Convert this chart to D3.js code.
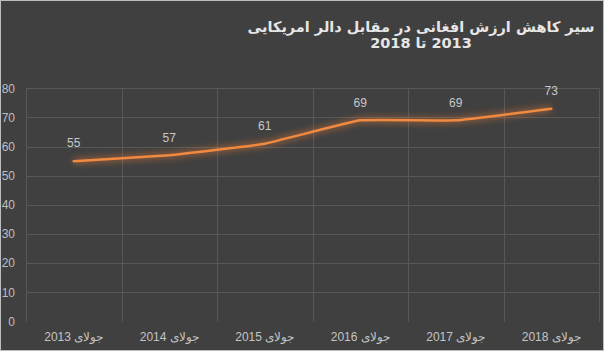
<!DOCTYPE html>
<html><head><meta charset="utf-8">
<script src="https://cdn.jsdelivr.net/npm/d3@7"></script>
<style>html,body{margin:0;padding:0;background:#404040;}svg{display:block;}</style>
</head><body>
<script>
const categories = ["جولای 2013","جولای 2014","جولای 2015","جولای 2016","جولای 2017","جولای 2018"];
const values = [55, 57, 61, 69, 69, 73];
const yTicks = [0,10,20,30,40,50,60,70,80];
const titleLine1 = "سیر کاهش ارزش افغانی در مقابل دالر امریکایی";
const titleLine2 = ["2013", "تا", "2018"];   // reading order (right to left)

const W = 604, H = 351;
const svg = d3.select("body").append("svg").attr("width", W).attr("height", H);
svg.append("rect").attr("x",0.5).attr("y",0.5).attr("width",W-1).attr("height",H-1)
  .attr("fill","#404040").attr("stroke","#bdbdbd").attr("stroke-width",1);

const defs = svg.append("defs");
const f = defs.append("filter").attr("id","glow").attr("x","-10%").attr("y","-50%").attr("width","120%").attr("height","200%");
f.append("feGaussianBlur").attr("stdDeviation",3).attr("result","b");

const x = d3.scaleBand().domain(categories).range([26, 599]);
const y = d3.scaleLinear().domain([0, 80]).range([321.5, 88.3]);

const fontFam = "'Liberation Sans', Arial, sans-serif";

// horizontal grid
svg.append("g").selectAll("line").data(yTicks.filter(d=>d>0)).join("line")
  .attr("x1", 26).attr("x2", 599)
  .attr("y1", d=>Math.round(y(d))+0.5).attr("y2", d=>Math.round(y(d))+0.5)
  .attr("stroke","#585858").attr("stroke-width",1);
// vertical grid
const vx = categories.map(c=>x(c)).concat([x.range()[1]]);
svg.append("g").selectAll("line").data(vx).join("line")
  .attr("x1", d=>Math.round(d)+0.5).attr("x2", d=>Math.round(d)+0.5)
  .attr("y1", y(80)).attr("y2", y(0))
  .attr("stroke","#585858").attr("stroke-width",1);

// y labels
svg.append("g").selectAll("text").data(yTicks).join("text")
  .attr("x", 15).attr("y", d=>y(d)).attr("dy","0.35em")
  .attr("text-anchor","end").attr("fill","#bfbfbf")
  .attr("font-family",fontFam).attr("font-size",12).text(d=>d);

// x labels
svg.append("g").selectAll("text").data(categories).join("text")
  .attr("x", d=>x(d)+x.bandwidth()/2).attr("y", 337).attr("dy","0.35em")
  .attr("text-anchor","middle").attr("direction","rtl").attr("unicode-bidi","embed")
  .attr("fill","#c4c4c4").attr("font-family",fontFam).attr("font-size",12).text(d=>d);

const pts = categories.map((c,i)=>[x(c)+x.bandwidth()/2, y(values[i])]);
const line = d3.line().curve(d3.curveCardinal.tension(0.75));
svg.append("path").attr("d", line(pts)).attr("fill","none")
  .attr("stroke","#ed7d31").attr("stroke-width",6).attr("stroke-opacity",0.45).attr("filter","url(#glow)");
svg.append("path").attr("d", line(pts)).attr("fill","none")
  .attr("stroke","#f08a40").attr("stroke-width",2.5).attr("stroke-linecap","round").attr("stroke-linejoin","round");

// data labels
svg.append("g").selectAll("text").data(values).join("text")
  .attr("x", (d,i)=>pts[i][0]).attr("y", (d,i)=>pts[i][1]-18).attr("dy","0.35em")
  .attr("text-anchor","middle").attr("fill","#c8c8c8")
  .attr("font-family",fontFam).attr("font-size",12).text(d=>d);

// title
const tFont = "'DejaVu Sans', 'Noto Sans', sans-serif";
const tcx = 421;
svg.append("text").attr("x", tcx).attr("y", 27).attr("dy","0.35em")
  .attr("text-anchor","middle").attr("fill","#e6e6e6").attr("font-weight","bold")
  .attr("font-family",tFont).attr("font-size",14.5).text(titleLine1);
const t2 = svg.append("g").selectAll("text").data(titleLine2).join("text")
  .attr("y", 43).attr("dy","0.35em").attr("text-anchor","end")
  .attr("fill","#e6e6e6").attr("font-weight","bold")
  .attr("font-family",tFont).attr("font-size",14.5).text(d=>d);
const gap = 5;
const widths = t2.nodes().map(n=>n.getComputedTextLength());
const total = d3.sum(widths) + gap*(widths.length-1);
let rx = tcx + total/2;
t2.attr("x", (d,i)=>{ const v = rx; rx -= widths[i] + gap; return v; });
</script>
</body></html>
